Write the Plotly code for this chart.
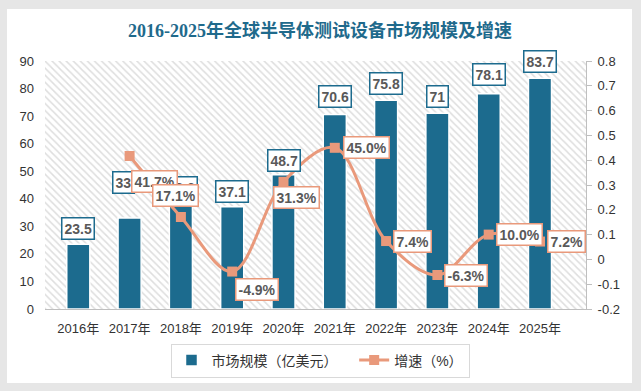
import plotly.graph_objects as go

years = ["2016年", "2017年", "2018年", "2019年", "2020年", "2021年", "2022年", "2023年", "2024年", "2025年"]
market = [23.5, 33, 38.6, 37.1, 48.7, 70.6, 75.8, 71, 78.1, 83.7]
growth = [None, 41.7, 17.1, -4.9, 31.3, 45.0, 7.4, -6.3, 10.0, 7.2]
left_ticks = [0, 10, 20, 30, 40, 50, 60, 70, 80, 90]
right_ticks = [-0.2, -0.1, 0, 0.1, 0.2, 0.3, 0.4, 0.5, 0.6, 0.7, 0.8]

# label placement (pixels)
bar_label_shift = [(0, 4), (-6, 24), (0, 4), (0, 4), (0, 3), (0, 6), (0, 5), (0, 5), (0, 8), (0, 5)]
line_label_pos = [None, ("left", 1, -26), ("center", -5, 21), ("left", 3, -18), ("left", -11, -16),
                  ("left", 8, 0), ("left", 7, 0), ("left", 7, 0), ("left", 7, 0), ("left", 7, 0)]

BAR = "#1C6B8E"
LINE = "#E9997B"
TXT = "#595959"
FONT = "Liberation Sans, Noto Sans CJK SC"

L, R, T, B = 45, 55, 61, 82
W, H = 641, 391
pw, ph = W - L - R, H - T - B

fig = go.Figure()

# hatched plot background
fig.add_trace(go.Scatter(
    x=[0, 1, 1, 0, 0], y=[0, 0, 1, 1, 0], xaxis="x", yaxis="y",
    mode="lines", fill="toself", fillcolor="white",
    fillpattern=dict(shape="\\", fgcolor="#BDBDBD", bgcolor="white", size=5, solidity=0.3),
    line=dict(width=0), hoverinfo="skip", showlegend=False))

fig.add_trace(go.Bar(
    x=years, y=market, xaxis="x2", yaxis="y2", name="市场规模（亿美元）\u00a0\u00a0\u00a0",
    marker=dict(color=BAR, line=dict(color="white", width=1.5)), width=0.45))

fig.add_trace(go.Scatter(
    x=years, y=[None if g is None else g / 100 for g in growth], xaxis="x2", yaxis="y3",
    name="增速（%）", mode="lines+markers",
    line=dict(color=LINE, width=3, shape="spline", smoothing=1.0),
    marker=dict(symbol="square", size=10, color=LINE), connectgaps=False))

ann = []
for yr, v, (xs, ys) in zip(years, market, bar_label_shift):
    ann.append(dict(x=yr, y=v, xref="x2", yref="y2", text=f"{v:g}", showarrow=False,
                    yanchor="bottom", xshift=xs, yshift=ys, bgcolor="white", bordercolor=BAR,
                    borderwidth=1.5, borderpad=2,
                    font=dict(family=FONT, size=14, color=TXT, weight="bold")))
for yr, g, pos in zip(years, growth, line_label_pos):
    if g is None:
        continue
    xa, xs, ys = pos
    ann.append(dict(x=yr, y=g / 100, xref="x2", yref="y3", text=f"{g:.1f}%", showarrow=False,
                    xanchor=xa, yanchor="middle", xshift=xs, yshift=ys, bgcolor="white",
                    bordercolor=LINE, borderwidth=1.5, borderpad=2,
                    font=dict(family=FONT, size=14, color=TXT, weight="bold")))

fig.update_layout(
    width=W, height=H, margin=dict(l=L, r=R, t=T, b=B),
    paper_bgcolor="#E6E6E6", plot_bgcolor="white",
    font=dict(family=FONT, size=13, color="#333333"),
    title=dict(text="2016-2025年全球半导体测试设备市场规模及增速", xref="container", x=320 / W,
               xanchor="center", yref="container", y=1 - 31 / H, yanchor="middle",
               font=dict(family="Liberation Serif, Noto Sans CJK SC", size=18, color="#1F6A8C", weight="bold")),
    xaxis=dict(range=[0, 1], visible=False, fixedrange=True),
    yaxis=dict(range=[0, 1], visible=False, fixedrange=True),
    xaxis2=dict(type="category", overlaying="x", anchor="y2", side="bottom", showline=True,
                linecolor="#BFBFBF", linewidth=1, ticks="", showgrid=False, ticklabelstandoff=7,
                tickfont=dict(size=13, color="#333333")),
    yaxis2=dict(range=[0, 90], tickvals=left_ticks, overlaying="y", side="left", anchor="x2",
                showgrid=False, showline=False, zeroline=False, ticklabelstandoff=10,
                tickfont=dict(size=13, color="#333333")),
    yaxis3=dict(range=[-0.2, 0.8], tickvals=right_ticks, ticktext=[f"{t:g}" for t in right_ticks],
                overlaying="y", side="right", anchor="x2", showgrid=False, zeroline=False,
                showline=True, linecolor="#BFBFBF", ticks="outside", ticklen=5, tickcolor="#BFBFBF",
                ticklabelstandoff=3, tickfont=dict(size=13, color="#333333")),
    legend=dict(orientation="h", x=(320 - L) / pw, xanchor="center", y=(T + ph - 360.5) / ph,
                yanchor="middle", bgcolor="white", bordercolor="#D9D9D9", borderwidth=1,
                font=dict(size=14, color="#333333")),
    shapes=[dict(type="rect", xref="paper", yref="paper", layer="below",
                 x0=(7 - L) / pw, x1=(632 - L) / pw, y0=(T + ph - 383) / ph, y1=(T + ph - 9) / ph,
                 fillcolor="white", line=dict(width=0))],
    annotations=ann,
    showlegend=True,
)

fig.write_html("out.html", config={"displayModeBar": False},
               post_script="document.body.style.margin='0';")
